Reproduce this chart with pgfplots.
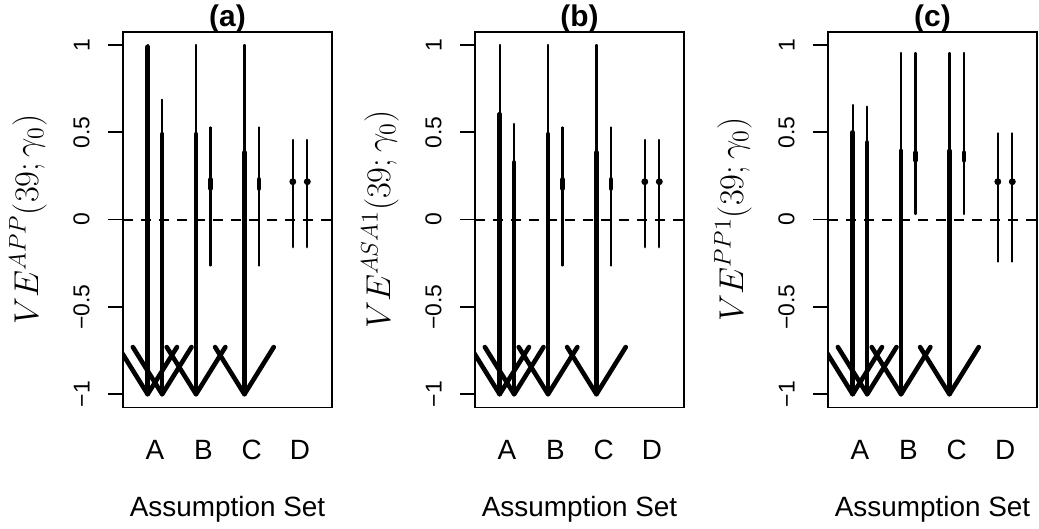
\documentclass[border=0pt]{standalone}
\usepackage[no-math]{fontspec}
\setmainfont{Liberation Sans}
\usepackage{pgfplots}
\usepackage{pgfplotstable}
\pgfplotsset{compat=1.18}

% intervals: x, thin (lo,hi), thick (tlo,thi)
\pgfplotstableread{
x     lo      hi     tlo     thi
0.85  -1.00   1.000  -1.00   0.990
1.15  -1.00   0.687  -1.00   0.490
1.85  -1.00   1.000  -1.00   0.490
2.15  -0.263  0.528   0.177  0.231
2.85  -1.00   1.000  -1.00   0.385
3.15  -0.263  0.528   0.177  0.231
3.85  -0.158  0.456   0.217  0.217
4.15  -0.158  0.456   0.217  0.217
}\tabA
\pgfplotstableread{
x     lo      hi     tlo     thi
0.85  -1.00   1.000  -1.00   0.604
1.15  -1.00   0.548  -1.00   0.328
1.85  -1.00   1.000  -1.00   0.490
2.15  -0.263  0.528   0.177  0.231
2.85  -1.00   1.000  -1.00   0.385
3.15  -0.263  0.528   0.177  0.231
3.85  -0.158  0.456   0.217  0.217
4.15  -0.158  0.456   0.217  0.217
}\tabB
\pgfplotstableread{
x     lo      hi     tlo     thi
0.85  -1.00   0.656  -1.00   0.500
1.15  -1.00   0.647  -1.00   0.442
1.85  -1.00   0.954  -1.00   0.394
2.15   0.032  0.954   0.339  0.384
2.85  -1.00   0.954  -1.00   0.394
3.15   0.032  0.954   0.339  0.384
3.85  -0.240  0.494   0.217  0.217
4.15  -0.240  0.494   0.217  0.217
}\tabC

\pgfplotsset{
  rpanel/.style={
    scale only axis, width=104.5bp, height=187.9bp,
    anchor=south west,
    xmin=0.34, xmax=4.66, ymin=-1.076, ymax=1.076,
    axis line style={line width=0.9bp},
    xtick={1,2,3,4}, xticklabels={A,B,C,D},
    ytick={-1,-0.5,0,0.5,1}, yticklabels={−1,−0.5,0,0.5,1},
    xtick pos=bottom, ytick pos=left,
    tick align=outside, major tick length=7.5bp,
    x tick style={draw=none},
    y tick style={line width=0.9bp, black},
    xticklabel style={font=\fontsize{14}{16}\selectfont, anchor=base, yshift=-18.5bp},
    yticklabel style={font=\fontsize{11.5}{13}\selectfont, inner sep=0pt,
      xshift=-9bp, rotate=90, anchor=south},
    every axis title shift=0pt,
    title style={font=\fontsize{15}{18}\selectfont\bfseries,
      at={(axis description cs:0.5,1)}, anchor=base, yshift=2.5bp},
    xlabel={Assumption Set},
    xlabel style={font=\fontsize{14}{16}\selectfont,
      at={(axis description cs:0.5,0)}, anchor=base, yshift=-54.5bp},
    ylabel style={font=\fontsize{17.5}{20}\selectfont,
      at={(axis description cs:-0.4545,0.5)}, anchor=center},
  },
  refline/.style={black, line width=1bp, dash pattern=on 5bp off 4bp},
  thinbar/.style={black, line width=1.1bp, line cap=round, mark=none,
    quiver={u=0, v=\thisrow{hi}-\thisrow{lo}}},
  thickbar/.style={black, line width=2.2bp, line cap=round, mark=none,
    quiver={u=0, v=\thisrow{thi}-\thisrow{tlo}}},
  chev/.style={black, line width=2.3bp, line cap=round, line join=round, mark=none},
  dot/.style={black, only marks, mark=*, mark size=1.5bp},
}

\begin{document}
\begin{tikzpicture}
\useasboundingbox (0,0) rectangle (519.5bp,264.5bp);

% (a)
\begin{axis}[rpanel, at={(61.5bp,60.75bp)}, title={(a)},
  ylabel={$VE^{APP}(39;\gamma_0)$}]
\addplot[refline] coordinates {(0.34,0) (4.66,0)};
\addplot[thinbar] table[x=x, y=lo] {\tabA};
\addplot[thickbar] table[x=x, y=tlo] {\tabA};
\addplot[chev] coordinates {(0.244,-0.73) (0.85,-1) (1.456,-0.73)};
\addplot[chev] coordinates {(0.544,-0.73) (1.15,-1) (1.756,-0.73)};
\addplot[chev] coordinates {(1.244,-0.73) (1.85,-1) (2.456,-0.73)};
\addplot[chev] coordinates {(2.244,-0.73) (2.85,-1) (3.456,-0.73)};
\addplot[dot] coordinates {(3.85,0.217) (4.15,0.217)};
\end{axis}

% (b)
\begin{axis}[rpanel, at={(237.5bp,60.75bp)}, title={(b)},
  ylabel={$VE^{ASA1}(39;\gamma_0)$}]
\addplot[refline] coordinates {(0.34,0) (4.66,0)};
\addplot[thinbar] table[x=x, y=lo] {\tabB};
\addplot[thickbar] table[x=x, y=tlo] {\tabB};
\addplot[chev] coordinates {(0.244,-0.73) (0.85,-1) (1.456,-0.73)};
\addplot[chev] coordinates {(0.544,-0.73) (1.15,-1) (1.756,-0.73)};
\addplot[chev] coordinates {(1.244,-0.73) (1.85,-1) (2.456,-0.73)};
\addplot[chev] coordinates {(2.244,-0.73) (2.85,-1) (3.456,-0.73)};
\addplot[dot] coordinates {(3.85,0.217) (4.15,0.217)};
\end{axis}

% (c)
\begin{axis}[rpanel, at={(414bp,60.75bp)}, title={(c)},
  ylabel={$VE^{PP1}(39;\gamma_0)$}]
\addplot[refline] coordinates {(0.34,0) (4.66,0)};
\addplot[thinbar] table[x=x, y=lo] {\tabC};
\addplot[thickbar] table[x=x, y=tlo] {\tabC};
\addplot[chev] coordinates {(0.244,-0.73) (0.85,-1) (1.456,-0.73)};
\addplot[chev] coordinates {(0.544,-0.73) (1.15,-1) (1.756,-0.73)};
\addplot[chev] coordinates {(1.244,-0.73) (1.85,-1) (2.456,-0.73)};
\addplot[chev] coordinates {(2.244,-0.73) (2.85,-1) (3.456,-0.73)};
\addplot[dot] coordinates {(3.85,0.217) (4.15,0.217)};
\end{axis}
\end{tikzpicture}
\end{document}
